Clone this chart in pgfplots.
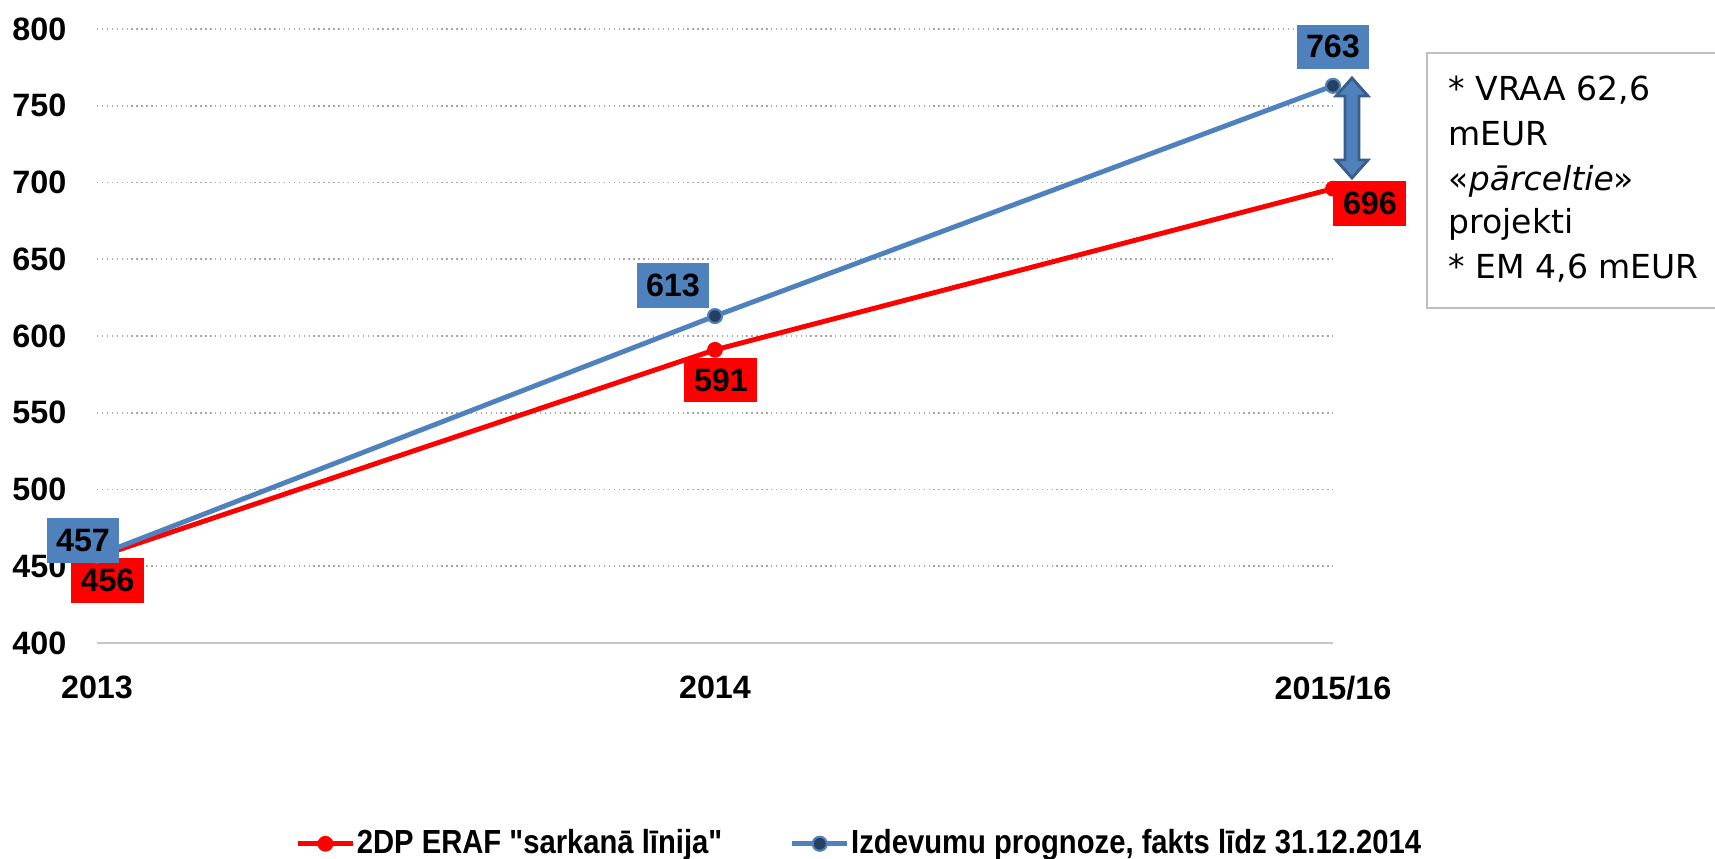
\documentclass[border=0pt]{standalone}
\usepackage{fontspec}
\setmainfont{Liberation Sans}
\newfontfamily\notefont{DejaVu Sans}
\newfontfamily\legfont[FakeStretch=0.875]{Liberation Sans}
\usepackage{pgfplots}
\pgfplotsset{compat=1.18}
\definecolor{xred}{RGB}{255,0,0}
\definecolor{xblue}{RGB}{79,129,189}
\definecolor{xnavy}{RGB}{37,64,97}
\definecolor{xedge}{RGB}{56,93,138}

\pgfplotstableread{
x y dx dy
0 456 1.05 -2.35
1 591 0.6 -3.03
2 696 3.7 -1.5
}\redline
\pgfplotstableread{
x y dx dy
0 457 -1.4 1.5
1 613 -4.2 3.05
2 763 0.0 3.9
}\blueline

\begin{document}
\begin{tikzpicture}
  \begin{axis}[
    at={(9.7mm,-64.3mm)}, anchor=south west,
    scale only axis, width=123.6mm, height=61.4mm,
    xmin=0, xmax=2, ymin=400, ymax=800,
    xtick={0,1,2}, xticklabels={2013,2014,2015/16},
    ytick={400,450,...,800},
    axis line style={draw=none},
    major tick length=0pt,
    ymajorgrids, grid style={densely dotted, gray!70, line width=0.5pt},
    extra y ticks={400}, extra y tick labels={},
    extra y tick style={grid style={solid, gray!45, line width=0.8pt}},
    tick label style={font=\fontsize{9.2}{10}\selectfont\bfseries, text=black, inner sep=0pt},
    /pgf/number format/assume math mode=true,
    yticklabel style={anchor=east, xshift=-3mm},
    xticklabel style={anchor=north, yshift=-3.2mm},
    clip=false,
    legend style={at={(axis description cs:0.160,-0.327)}, anchor=west,
      draw=none, fill=none, inner sep=0pt,
      nodes={inner sep=0.15mm},
      font=\legfont\fontsize{9.5}{10}\selectfont\bfseries,
      /tikz/every even column/.append style={column sep=6.6mm}},
    legend columns=2,
    legend image code/.code={
      \draw[mark repeat=2, mark phase=2] plot coordinates {(0mm,0mm) (2.75mm,0mm) (5.5mm,0mm)};},
    nodes near coords,
    point meta=explicit,
  ]
    \addplot[xred, line width=1.4pt, mark=*, mark size=2pt,
      mark options={fill=xred, draw=xred, line width=0.5pt},
      visualization depends on={\thisrow{dx} \as \dx},
      visualization depends on={\thisrow{dy} \as \dy},
      nodes near coords style={anchor=center, fill=xred, text=black,
        minimum width=7.3mm, minimum height=4.45mm, inner sep=0pt,
        font=\fontsize{9.2}{10}\selectfont\bfseries,
        xshift=\dx mm, yshift=\dy mm}]
      table[x=x, y=y, meta=y] {\redline};
    \addlegendentry{2DP ERAF "sarkanā līnija"}

    \addplot[xblue, line width=1.4pt, mark=*, mark size=2pt,
      mark options={fill=xnavy, draw=xblue, line width=0.6pt},
      visualization depends on={\thisrow{dx} \as \dx},
      visualization depends on={\thisrow{dy} \as \dy},
      nodes near coords style={anchor=center, fill=xblue, text=black,
        minimum width=7.2mm, minimum height=4.45mm, inner sep=0pt,
        font=\fontsize{9.2}{10}\selectfont\bfseries,
        xshift=\dx mm, yshift=\dy mm}]
      table[x=x, y=y, meta=y] {\blueline};
    \addlegendentry{Izdevumu prognoze, fakts līdz 31.12.2014}
  \end{axis}

  \begin{scope}[x=0.1mm, y=-0.1mm]
    % double arrow between the two end points
    \filldraw[fill=xblue, draw=xedge, line width=0.8pt]
      (1352,78) -- (1368,96) -- (1359,96) -- (1359,160) -- (1368,160)
      -- (1352,178) -- (1336,160) -- (1345,160) -- (1345,96) -- (1336,96) -- cycle;
    % note box, cut off by the right edge
    \draw[gray!50, line width=0.8pt] (1715,53) -- (1427,53) -- (1427,308) -- (1715,308);
    \begin{scope}[every node/.style={anchor=base west, inner sep=0pt,
        font=\notefont\fontsize{9.4}{12}\selectfont}]
      \node at (1448,100) {* VRAA 62,6};
      \node at (1448,145) {mEUR};
      \node at (1448,190) {«\textit{pārceltie}»};
      \node at (1448,233) {projekti};
      \node at (1448,278) {* EM 4,6 mEUR};
    \end{scope}
    \pgfresetboundingbox
    \path[use as bounding box] (0,0) rectangle (1715,859);
  \end{scope}
\end{tikzpicture}
\end{document}
